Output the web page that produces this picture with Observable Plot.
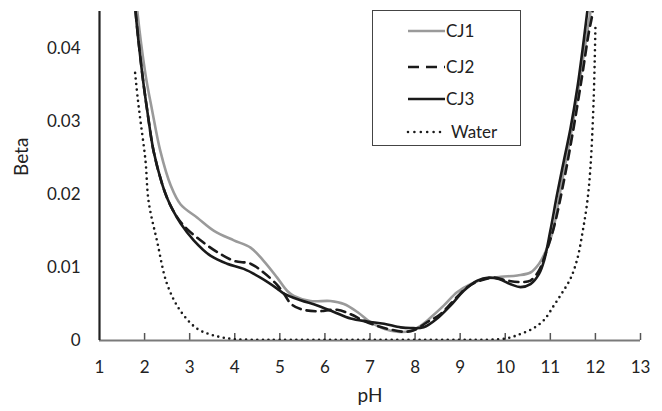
<!DOCTYPE html>
<html>
<head>
<meta charset="utf-8">
<script src="https://cdn.jsdelivr.net/npm/d3@7"></script>
<script src="https://cdn.jsdelivr.net/npm/@observablehq/plot@0.6"></script>
<style>
  html, body { margin: 0; padding: 0; background: #fff; }
  #wrap { position: relative; width: 662px; height: 411px; font-family: Lato, "Open Sans", sans-serif; }
  #legend { position: absolute; left: 372px; top: 10px; width: 149px; height: 136px;
            border: 1px solid #444; background: #fff; box-sizing: border-box; }
  #legend svg { position: absolute; left: 0; top: 0; }
</style>
</head>
<body>
<div id="wrap"></div>
<script>
// ---- data ----
const xTicks = [1, 2, 3, 4, 5, 6, 7, 8, 9, 10, 11, 12, 13];
const yTicks = [0, 0.01, 0.02, 0.03, 0.04];
const yTickLabels = ["0", "0.01", "0.02", "0.03", "0.04"];
const seriesNames = ["CJ1", "CJ2", "CJ3", "Water"];

const cj1PH   = [1.80, 1.84, 2.02, 2.17, 2.35, 2.58, 2.80, 3.17, 3.54, 3.98, 4.35, 4.64, 4.94, 5.16, 5.31, 5.68, 6.12, 6.42, 6.72, 7.01, 7.31, 7.60, 7.90, 8.12, 8.34, 8.64, 8.93, 9.23, 9.53, 9.90, 10.27, 10.56, 10.75, 10.89, 11.04, 11.26, 11.45, 11.65, 11.80, 11.89, 11.95];
const cj1Beta = [0.0480, 0.0450, 0.0364, 0.0314, 0.0259, 0.0212, 0.0186, 0.0168, 0.0150, 0.0137, 0.0127, 0.0109, 0.0086, 0.0068, 0.0061, 0.0054, 0.0054, 0.0050, 0.0039, 0.0025, 0.0016, 0.0012, 0.0013, 0.0020, 0.0031, 0.0048, 0.0066, 0.0077, 0.0084, 0.0087, 0.0089, 0.0093, 0.0105, 0.0121, 0.0146, 0.0218, 0.0280, 0.0355, 0.0415, 0.0450, 0.0480];

const cj2PH   = [1.78, 1.80, 1.95, 2.06, 2.20, 2.39, 2.50, 2.63, 2.80, 2.95, 3.24, 3.61, 3.98, 4.35, 4.64, 4.94, 5.09, 5.25, 5.46, 5.83, 6.27, 6.57, 6.86, 7.16, 7.46, 7.75, 7.97, 8.27, 8.56, 8.86, 9.16, 9.45, 9.75, 10.04, 10.34, 10.56, 10.75, 10.89, 11.08, 11.30, 11.50, 11.70, 11.85, 11.93, 11.96];
const cj2Beta = [0.0470, 0.0450, 0.0364, 0.0314, 0.0259, 0.0214, 0.0195, 0.0178, 0.0162, 0.0152, 0.0137, 0.0121, 0.0109, 0.0105, 0.0093, 0.0076, 0.0064, 0.0050, 0.0043, 0.0040, 0.0042, 0.0036, 0.0027, 0.0020, 0.0015, 0.0012, 0.0014, 0.0025, 0.0036, 0.0055, 0.0073, 0.0082, 0.0086, 0.0082, 0.0080, 0.0082, 0.0096, 0.0118, 0.0155, 0.0218, 0.0285, 0.0360, 0.0420, 0.0446, 0.0470];

const cj3PH   = [1.78, 1.80, 1.95, 2.06, 2.20, 2.39, 2.50, 2.63, 2.80, 3.09, 3.46, 3.83, 4.20, 4.57, 4.94, 5.09, 5.46, 5.83, 6.20, 6.57, 6.94, 7.31, 7.68, 7.90, 8.19, 8.49, 8.79, 9.08, 9.38, 9.64, 9.86, 10.12, 10.34, 10.56, 10.75, 10.86, 11.00, 11.15, 11.30, 11.45, 11.60, 11.74, 11.82, 11.86];
const cj3Beta = [0.0470, 0.0450, 0.0364, 0.0314, 0.0259, 0.0214, 0.0195, 0.0178, 0.0160, 0.0137, 0.0116, 0.0105, 0.0098, 0.0086, 0.0071, 0.0064, 0.0055, 0.0048, 0.0039, 0.0030, 0.0026, 0.0023, 0.0018, 0.0017, 0.0018, 0.0030, 0.0048, 0.0068, 0.0082, 0.0086, 0.0084, 0.0077, 0.0073, 0.0077, 0.0091, 0.0109, 0.0150, 0.0200, 0.0246, 0.0291, 0.0346, 0.0410, 0.0450, 0.0470];

const waterPH   = [1.79, 1.85, 1.91, 2.02, 2.09, 2.28, 2.50, 2.80, 3.17, 3.53, 3.97, 4.5, 5, 6, 7, 8, 9, 9.6, 10.04, 10.34, 10.63, 10.86, 11.08, 11.26, 11.45, 11.60, 11.72, 11.82, 11.89, 11.96, 12.00];
const waterBeta = [0.0366, 0.0330, 0.0300, 0.0246, 0.0190, 0.0135, 0.0077, 0.0040, 0.0016, 0.0007, 0.0002, 0.0001, 0.0001, 0.0001, 0.0001, 0.0001, 0.0001, 0.0001, 0.0003, 0.0009, 0.0017, 0.0028, 0.0048, 0.0065, 0.0085, 0.0112, 0.0150, 0.0190, 0.0237, 0.0328, 0.0428];

// ---- build table ----
function rows(name, xs, ys) { return xs.map((x, i) => ({series: name, pH: x, beta: ys[i]})); }
const cj1 = rows(seriesNames[0], cj1PH, cj1Beta);
const cj2 = rows(seriesNames[1], cj2PH, cj2Beta);
const cj3 = rows(seriesNames[2], cj3PH, cj3Beta);
const water = rows(seriesNames[3], waterPH, waterBeta);

const gray = "#9a9a9a", black = "#1a1a1a";

const chart = Plot.plot({
  width: 662, height: 411,
  marginLeft: 99, marginRight: 22, marginTop: 11, marginBottom: 71,
  x: {domain: [1, 13]},
  y: {domain: [0, 0.045]},
  style: {fontFamily: "Lato, 'Open Sans', sans-serif", fontSize: "17px", color: "#222", background: "#fff", overflow: "visible"},
  marks: [
    Plot.axisY(yTicks, {tickSize: 0, tickPadding: 19, tickFormat: d => yTickLabels[yTicks.indexOf(d)], label: null, fontSize: 17}),
    Plot.axisX(xTicks, {tickSize: 0, tickPadding: 20, tickFormat: d => String(d), label: null, fontSize: 17}),
    Plot.tickX(xTicks.slice(1), {x: d => d, insetTop: 322, stroke: "#555", strokeWidth: 1.5}),
    Plot.ruleY([0], {stroke: "#7a7a7a", strokeWidth: 2}),
    Plot.line(water, {x: "pH", y: "beta", curve: "catmull-rom", stroke: black, strokeWidth: 2.6, strokeDasharray: "0 5.6", strokeLinecap: "round", clip: true}),
    Plot.line(cj1, {x: "pH", y: "beta", curve: "catmull-rom", stroke: gray, strokeWidth: 2.6, clip: true}),
    Plot.line(cj2, {x: "pH", y: "beta", curve: "catmull-rom", stroke: black, strokeWidth: 2.6, strokeDasharray: "9 6", clip: true}),
    Plot.line(cj3, {x: "pH", y: "beta", curve: "catmull-rom", stroke: black, strokeWidth: 2.6, clip: true}),
    Plot.ruleX([1], {stroke: "#222", strokeWidth: 2.2}),
    Plot.text(["Beta"], {frameAnchor: "left", rotate: -90, dx: -78, fontSize: 19, fill: "#222"}),
    Plot.text(["pH"], {frameAnchor: "bottom", dy: 61, fontSize: 19, fill: "#222"})
  ]
});

const wrap = document.getElementById("wrap");
wrap.appendChild(chart);

// ---- legend (inside the plot area, as in the reference) ----
const legendItems = [
  {name: seriesNames[0], stroke: gray, dash: null, cap: "butt"},
  {name: seriesNames[1], stroke: black, dash: "11 7", cap: "butt"},
  {name: seriesNames[2], stroke: black, dash: null, cap: "butt"},
  {name: seriesNames[3], stroke: black, dash: "0 6.4", cap: "round"}
];
const lg = document.createElement("div");
lg.id = "legend";
const ns = "http://www.w3.org/2000/svg";
const svg = document.createElementNS(ns, "svg");
svg.setAttribute("width", 149); svg.setAttribute("height", 136);
const rowY = [20, 56, 88, 121];
legendItems.forEach((it, i) => {
  const ln = document.createElementNS(ns, "line");
  ln.setAttribute("x1", 35); ln.setAttribute("x2", 72);
  ln.setAttribute("y1", rowY[i]); ln.setAttribute("y2", rowY[i]);
  ln.setAttribute("stroke", it.stroke); ln.setAttribute("stroke-width", 2.6);
  ln.setAttribute("stroke-linecap", it.cap);
  if (it.dash) ln.setAttribute("stroke-dasharray", it.dash);
  svg.appendChild(ln);
  const t = document.createElementNS(ns, "text");
  t.setAttribute("x", i === 3 ? 78 : 73); t.setAttribute("y", rowY[i]);
  t.setAttribute("dy", "0.35em");
  t.setAttribute("font-size", 17);
  t.setAttribute("font-family", "Lato, 'Open Sans', sans-serif");
  t.setAttribute("fill", "#222");
  t.textContent = it.name;
  svg.appendChild(t);
});
lg.appendChild(svg);
wrap.appendChild(lg);
</script>
</body>
</html>
